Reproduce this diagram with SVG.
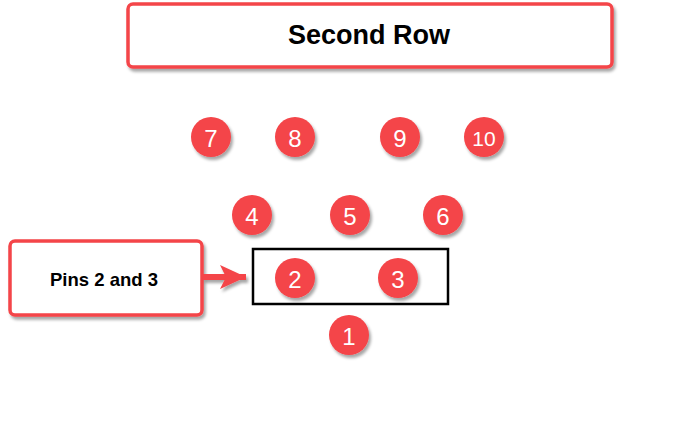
<svg xmlns="http://www.w3.org/2000/svg" width="700" height="436" viewBox="0 0 700 436">
<defs>
<filter id="sh" x="-30%" y="-30%" width="160%" height="160%">
<feDropShadow dx="2" dy="3" stdDeviation="1.5" flood-color="#000" flood-opacity="0.35"/>
</filter>
<filter id="shu" filterUnits="userSpaceOnUse" x="190" y="255" width="70" height="45">
<feDropShadow dx="2" dy="3" stdDeviation="1.5" flood-color="#000" flood-opacity="0.35"/>
</filter>
<marker id="ah" viewBox="0 0 26 24" refX="26" refY="12" markerWidth="26" markerHeight="24" orient="auto" markerUnits="userSpaceOnUse">
<path d="M0,0 L26,12 L0,24 L6,12 Z" fill="#f44448"/>
</marker>
<style>
.pin circle{fill:#f44448;filter:url(#sh)}
.pin text{fill:#fff;font-family:"Liberation Sans",Arial,sans-serif;font-size:24px;text-anchor:middle;dominant-baseline:central}
.box{fill:#fff;stroke:#f44448;stroke-width:3.5;filter:url(#sh)}
.lbl{fill:#000;font-family:"Liberation Sans",Arial,sans-serif;font-weight:bold;text-anchor:middle;dominant-baseline:central}
</style>
</defs>
<rect width="700" height="436" fill="#fff"/>
<g id="title">
<rect class="box" x="128" y="4" width="484" height="63" rx="5"/>
<text class="lbl" x="369" y="35" font-size="27">Second Row</text>
</g>
<g id="pins-label">
<rect class="box" x="10" y="241" width="192" height="74" rx="5"/>
<text class="lbl" x="104" y="279" font-size="18.5">Pins 2 and 3</text>
</g>
<g id="pins-box">
<rect x="253" y="249" width="195" height="55" fill="none" stroke="#000" stroke-width="2.5"/>
</g>
<g id="connectors" filter="url(#shu)">
<line x1="203" y1="277" x2="246" y2="277" stroke="#f44448" stroke-width="6" marker-end="url(#ah)"/>
</g>
<g id="pin7" class="pin"><circle cx="211" cy="137" r="20"/><text x="211" y="138">7</text></g>
<g id="pin8" class="pin"><circle cx="295" cy="137" r="20"/><text x="295" y="138">8</text></g>
<g id="pin9" class="pin"><circle cx="400" cy="137" r="20"/><text x="400" y="138">9</text></g>
<g id="pin10" class="pin"><circle cx="484" cy="137" r="20"/><text x="484" y="138" style="font-size:21px">10</text></g>
<g id="pin4" class="pin"><circle cx="252" cy="215" r="20"/><text x="252" y="216">4</text></g>
<g id="pin5" class="pin"><circle cx="350" cy="215" r="20"/><text x="350" y="216">5</text></g>
<g id="pin6" class="pin"><circle cx="443" cy="215" r="20"/><text x="443" y="216">6</text></g>
<g id="pin2" class="pin"><circle cx="295" cy="278" r="20"/><text x="295" y="279">2</text></g>
<g id="pin3" class="pin"><circle cx="398" cy="278" r="20"/><text x="398" y="279">3</text></g>
<g id="pin1" class="pin"><circle cx="349" cy="335" r="20"/><text x="349" y="336">1</text></g>
</svg>
